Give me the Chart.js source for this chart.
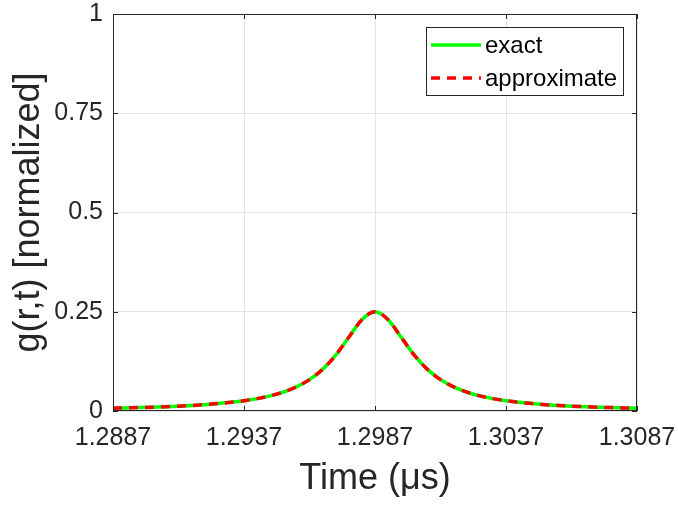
<!DOCTYPE html>
<html>
<head>
<meta charset="utf-8">
<script src="https://cdn.jsdelivr.net/npm/chart.js@4/dist/chart.umd.min.js"></script>
<style>
  body { margin: 0; background: #fff; }
  canvas { display: block; }
</style>
</head>
<body>
<canvas id="gChart" width="678" height="506"></canvas>
<script>
// time axis (microseconds), sampled every 0.0005
var times = [1.2887, 1.2892, 1.2897, 1.2902, 1.2907, 1.2912, 1.2917, 1.2922, 1.2927, 1.2932,
    1.2937, 1.2942, 1.2947, 1.2952, 1.2957, 1.2962, 1.2967, 1.2972, 1.2977, 1.2982,
    1.2987, 1.2992, 1.2997, 1.3002, 1.3007, 1.3012, 1.3017, 1.3022, 1.3027, 1.3032,
    1.3037, 1.3042, 1.3047, 1.3052, 1.3057, 1.3062, 1.3067, 1.3072, 1.3077, 1.3082, 1.3087];
var exactVals = [0.0070, 0.0078, 0.0086, 0.0096, 0.0108, 0.0122, 0.0139, 0.0160, 0.0186, 0.0218,
    0.0259, 0.0312, 0.0382, 0.0477, 0.0608, 0.0790, 0.1049, 0.1406, 0.1857, 0.2301,
    0.2500, 0.2301, 0.1857, 0.1406, 0.1049, 0.0790, 0.0608, 0.0477, 0.0382, 0.0312,
    0.0259, 0.0218, 0.0186, 0.0160, 0.0139, 0.0122, 0.0108, 0.0096, 0.0086, 0.0078, 0.0070];
var approxVals = [0.0070, 0.0078, 0.0086, 0.0096, 0.0108, 0.0122, 0.0139, 0.0160, 0.0186, 0.0218,
    0.0259, 0.0312, 0.0382, 0.0477, 0.0608, 0.0790, 0.1049, 0.1406, 0.1857, 0.2301,
    0.2500, 0.2301, 0.1857, 0.1406, 0.1049, 0.0790, 0.0608, 0.0477, 0.0382, 0.0312,
    0.0259, 0.0218, 0.0186, 0.0160, 0.0139, 0.0122, 0.0108, 0.0096, 0.0086, 0.0078, 0.0070];
var xTicks = [1.2887, 1.2937, 1.2987, 1.3037, 1.3087];
var yTicks = [0, 0.25, 0.5, 0.75, 1];
var seriesNames = ["exact", "approximate"];

var axisColor = '#262626';
var fontFam = '"Liberation Sans", Arial, Helvetica, sans-serif';

function pts(vals) {
    return times.map(function (t, i) { return {x: t, y: vals[i]}; });
}

// labels may hang over the plot edges, don't let them shrink the plot
function noOverhang(s) {
    s.paddingLeft = 0; s.paddingRight = 0; s.paddingTop = 0; s.paddingBottom = 0;
}

// box outline + inward ticks like matlab, and the legend
var boxPlugin = {
    id: 'boxPlugin',
    afterDraw: function (chart) {
        var ctx = chart.ctx, a = chart.chartArea;
        var xs = chart.scales.x, ys = chart.scales.y;
        ctx.save();
        ctx.strokeStyle = axisColor;
        ctx.lineWidth = 1;
        ctx.strokeRect(a.left + 0.5, a.top + 0.5, a.right - a.left - 1, a.bottom - a.top - 1);
        ctx.beginPath();
        xTicks.forEach(function (v) {
            var px = Math.round(xs.getPixelForValue(v)) + 0.5;
            ctx.moveTo(px, a.bottom); ctx.lineTo(px, a.bottom - 5);
            ctx.moveTo(px, a.top); ctx.lineTo(px, a.top + 5);
        });
        yTicks.forEach(function (v) {
            var py = Math.round(ys.getPixelForValue(v)) + 0.5;
            ctx.moveTo(a.left, py); ctx.lineTo(a.left + 5, py);
            ctx.moveTo(a.right, py); ctx.lineTo(a.right - 5, py);
        });
        ctx.stroke();

        // legend box
        var lx = 426, ly = 27, lw = 197, lh = 68;
        ctx.fillStyle = '#fff';
        ctx.fillRect(lx, ly, lw, lh);
        ctx.strokeRect(lx + 0.5, ly + 0.5, lw, lh);
        ctx.font = '24px ' + fontFam;
        ctx.textBaseline = 'middle';
        chart.data.datasets.forEach(function (ds, i) {
            var yy = ly + 18 + i * 33;
            ctx.strokeStyle = ds.borderColor;
            ctx.lineWidth = ds.borderWidth;
            ctx.setLineDash(ds.borderDash || []);
            ctx.beginPath();
            ctx.moveTo(lx + 5, yy); ctx.lineTo(lx + 55, yy);
            ctx.stroke();
            ctx.setLineDash([]);
            ctx.fillStyle = '#000';
            ctx.fillText(ds.label, lx + 59, yy + 1);
        });
        ctx.restore();
    }
};

var ctxG = document.getElementById("gChart").getContext('2d');
var gChart = new Chart(ctxG, {
    type: 'line',
    data: {
        datasets: [{
                label: seriesNames[0],
                data: pts(exactVals),
                borderColor: '#00ff00',
                borderWidth: 3.5,
                pointRadius: 0,
                cubicInterpolationMode: 'monotone',
                fill: false,
                order: 2
            }, {
                label: seriesNames[1],
                data: pts(approxVals),
                borderColor: '#ff0000',
                borderWidth: 3.5,
                borderDash: [9, 7],
                pointRadius: 0,
                cubicInterpolationMode: 'monotone',
                fill: false,
                order: 1
            }]
    },
    options: {
        responsive: false,
        animation: false,
        layout: {padding: {left: 0, right: 41, top: 14, bottom: 0}},
        plugins: {legend: {display: false}, tooltip: {enabled: false}},
        scales: {
            x: {
                type: 'linear',
                min: 1.2887,
                max: 1.3087,
                afterBuildTicks: function (s) { s.ticks = xTicks.map(function (v) { return {value: v}; }); },
                afterFit: function (s) { s.height = 95; noOverhang(s); },
                grid: {color: '#e3e3e3', drawTicks: false},
                border: {display: false},
                ticks: {
                    color: axisColor, padding: 12, maxRotation: 0,
                    font: {family: fontFam, size: 25},
                    callback: function (v) { return v.toFixed(4); }
                },
                title: {
                    display: true, text: 'Time (\u03bcs)', color: axisColor,
                    font: {family: fontFam, size: 36}, padding: {top: 0, bottom: 5}
                }
            },
            y: {
                min: 0,
                max: 1,
                afterBuildTicks: function (s) { s.ticks = yTicks.map(function (v) { return {value: v}; }); },
                afterFit: function (s) { s.width = 113; noOverhang(s); },
                grid: {color: '#e3e3e3', drawTicks: false},
                border: {display: false},
                ticks: {
                    color: axisColor, padding: 10,
                    font: {family: fontFam, size: 25},
                    callback: function (v) { return String(v); }
                },
                title: {
                    display: true, text: 'g(r,t) [normalized]', color: axisColor,
                    font: {family: fontFam, size: 36}, padding: {top: 7, bottom: 0}
                }
            }
        }
    },
    plugins: [boxPlugin]
});
</script>
</body>
</html>
